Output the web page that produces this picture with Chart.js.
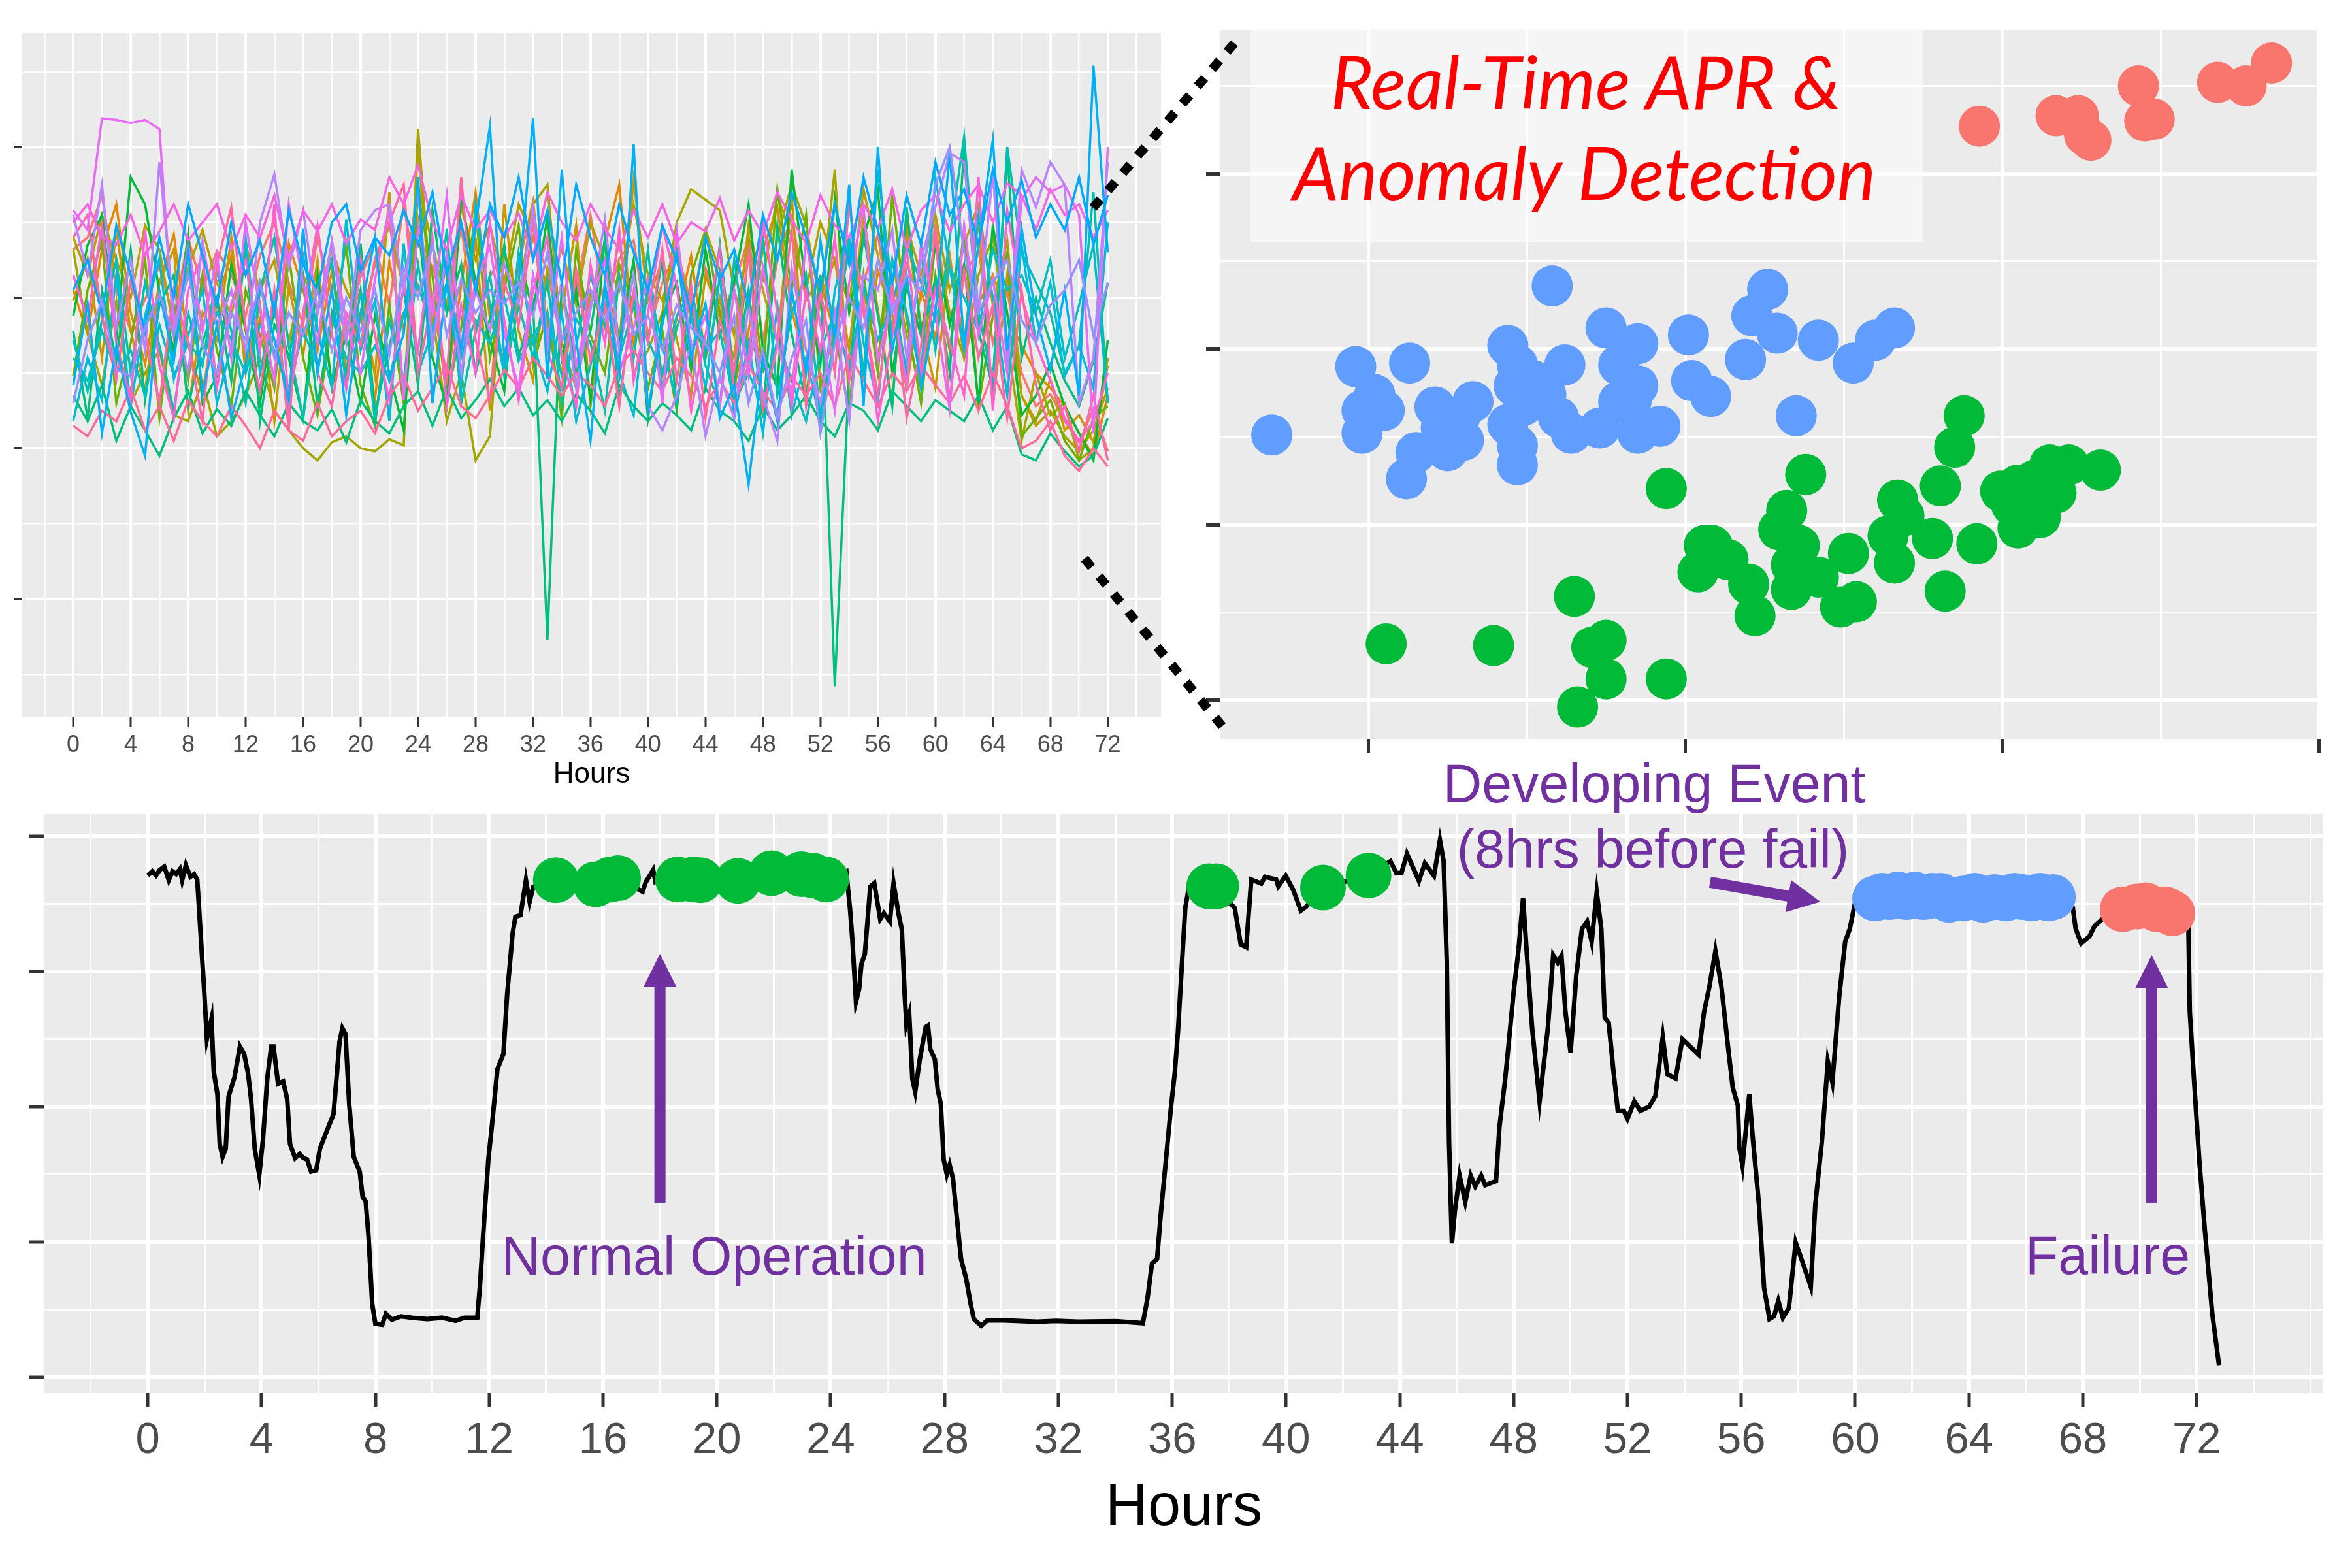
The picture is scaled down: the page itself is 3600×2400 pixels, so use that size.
<!DOCTYPE html>
<html>
<head>
<meta charset="utf-8">
<title>Real-Time APR</title>
<script src="https://cdn.jsdelivr.net/npm/chart.js@4"></script>
<style>
  html, body { margin: 0; background: #fff; }
  body { position: relative; width: 3600px; height: 2400px; overflow: hidden; font-family: "Liberation Sans", sans-serif; }
  canvas, svg, .note, .box { position: absolute; }
  .note { color: #7030A0; font-size: 82.5px; line-height: 1; white-space: nowrap; transform: translateX(-50%); }
  .headline { color: #FF0000; font: italic 112px/1 Lato, sans-serif; }
  .box { left: 1914px; top: 46px; width: 1029px; height: 325px; background: rgba(255, 255, 255, .5); }
</style>
</head>
<body>
<canvas id="multi" width="1800" height="1230" style="left:0;top:0"></canvas>
<canvas id="pca" width="1780" height="1180" style="left:1820px;top:0"></canvas>
<canvas id="sensor" width="3600" height="1200" style="left:0;top:1200px"></canvas>

<div class="box"></div>
<div class="note headline" style="left:2427px;top:68px">Real-Time APR &amp;</div>
<div class="note headline" style="left:2425px;top:207px">Anomaly Detection</div>
<div class="note" style="left:1093px;top:1881px">Normal Operation</div>
<div class="note" style="left:2532px;top:1158px">Developing Event</div>
<div class="note" style="left:2530px;top:1258px">(8hrs before fail)</div>
<div class="note" style="left:3226px;top:1880px">Failure</div>

<svg width="3600" height="2400" style="left:0;top:0">
  <g stroke="#000" stroke-width="14" stroke-dasharray="17 18">
    <line x1="1673" y1="318" x2="1893" y2="62"/>
    <line x1="1660" y1="855" x2="1881" y2="1124"/>
  </g>
</svg>

<script>
// top left: one line per sensor, hourly
const hourly = [];
for (let h = 0; h <= 72; h++) hourly.push(h);

const sensorColors = ["#F8766D", "#E58700", "#C99800", "#B79F00", "#A3A500", "#6BB100", "#00BA38", "#00BF7D", "#00C0AF", "#00BFC4",
  "#00BCD8", "#00BF7D", "#FF6A98", "#FD61D1", "#FF67A4", "#E76BF3", "#B983FF", "#F564E3", "#00B0F6", "#00A9FF", "#9590FF"];

const sensor1 = [232,240,268,205,178,199,221,186,240,205,231,216,188,228,250,210,182,240,201,176,214,236,195,262,205,221,190,248,176,214,230,199,240,218,170,205,255,191,226,238,175,210,232,196,220,186,208,240,172,225,254,198,214,186,230,210,242,176,222,200,248,186,215,232,170,205,150,128,136,118,104,126,98];
const sensor2 = [205,176,232,262,190,156,210,242,168,135,198,228,160,186,146,236,205,165,218,150,190,132,224,178,252,198,142,208,270,186,158,222,264,180,150,212,196,238,275,170,205,148,186,228,160,200,142,178,232,260,192,155,210,176,236,150,218,188,140,205,174,228,160,196,215,188,168,150,140,128,110,95,135];
const sensor3 = [198,226,160,245,178,138,210,232,125,190,172,240,150,195,118,208,162,225,140,182,205,148,270,130,300,182,222,142,240,125,262,178,145,220,190,248,128,205,170,278,198,225,172,135,215,188,160,248,205,170,268,135,200,225,165,255,192,130,245,182,140,225,170,252,128,215,135,118,146,112,122,104,155];
const sensor4 = [240,215,255,225,200,248,232,178,220,245,210,188,235,205,225,170,215,192,232,205,185,222,248,205,275,235,195,260,225,248,210,262,240,205,232,195,250,225,205,262,215,198,232,188,245,218,175,240,212,268,240,205,250,225,195,272,228,178,248,215,255,205,235,262,195,238,135,115,125,108,98,112,140];
const sensor5 = [232,176,142,198,130,150,165,122,118,145,108,118,135,160,125,112,100,92,104,108,100,98,106,102,312,190,118,150,92,108,230,200,262,275,170,140,205,180,240,150,165,190,250,272,265,258,205,170,158,240,275,248,195,285,130,205,160,225,175,140,238,190,160,215,240,172,105,150,122,130,92,100,160];
const sensor6 = [148,205,238,130,170,226,120,195,145,215,165,128,205,175,140,228,160,122,182,235,142,115,195,130,270,215,132,180,258,160,205,248,155,190,120,232,175,150,222,195,140,178,125,215,245,190,135,232,150,272,205,255,140,180,122,215,150,268,185,130,215,165,245,128,188,230,108,120,132,105,92,120,128];
const sensor7 = [188,235,255,172,280,262,204,165,242,130,148,222,178,130,195,160,120,215,142,175,130,188,150,112,250,160,128,268,210,172,138,230,190,254,160,205,132,240,170,225,120,188,210,152,232,175,210,262,165,140,285,206,156,265,190,240,272,150,208,175,235,182,222,130,248,190,122,135,156,128,110,92,172];
const sensor8 = [178,120,205,158,232,132,195,215,128,170,200,145,235,118,182,160,214,128,190,148,236,122,168,205,142,258,190,222,150,186,235,160,196,-27,210,150,178,238,132,200,172,225,128,190,160,235,145,205,120,248,176,130,215,-58,150,242,188,128,260,176,212,150,300,178,140,296,160,200,170,145,128,158,210];
const sensor9 = [172,138,185,225,150,210,168,125,190,155,218,178,130,205,240,168,120,190,225,140,205,118,185,145,222,165,246,130,178,215,148,195,160,212,130,186,170,125,215,160,232,140,180,205,155,128,225,158,240,135,190,215,120,175,235,148,285,205,150,230,165,240,307,190,145,300,230,210,190,150,168,270,130];
const sensor10 = [160,145,178,150,165,135,182,148,170,158,190,172,150,182,165,140,178,155,186,160,150,168,145,190,208,178,225,160,185,170,200,158,175,190,148,168,215,182,160,195,172,150,188,205,165,178,130,150,128,172,145,118,165,190,150,208,172,195,235,210,185,220,200,178,232,205,215,190,225,160,195,235,130];
const sensor11 = [118,160,132,215,128,188,226,146,175,205,130,168,240,150,196,125,228,178,140,252,165,198,118,236,150,178,210,140,262,195,150,228,170,138,190,118,155,205,150,122,210,168,132,188,140,215,120,170,110,195,122,160,118,205,240,170,130,225,190,148,280,220,165,255,200,135,235,170,210,148,168,140,250];
const sensor12 = [135,118,142,105,128,112,95,120,138,110,126,115,138,122,108,130,118,112,126,104,132,118,110,128,138,115,140,120,132,146,128,140,122,132,118,136,125,110,142,128,118,130,122,112,140,125,118,105,128,112,122,135,118,108,130,125,112,138,128,118,132,125,118,135,112,128,96,92,110,98,88,95,120];
const sensor13 = [115,108,125,118,140,112,128,105,132,118,108,128,115,100,125,112,105,130,108,118,125,110,135,148,125,140,155,128,120,135,152,140,160,148,135,150,142,128,155,165,150,138,160,148,128,145,130,155,138,125,148,135,150,128,162,145,128,150,138,155,142,130,148,125,150,128,100,105,118,95,85,100,88];
const sensor14 = [215,185,248,170,132,245,155,120,205,228,140,196,225,165,262,128,190,248,175,140,225,175,132,210,165,240,128,195,150,250,185,132,205,240,160,128,222,170,245,145,190,248,208,125,175,232,138,160,252,190,128,205,165,240,145,198,118,175,232,150,205,170,135,280,125,258,200,170,145,120,105,118,150];
const sensor15 = [240,255,188,146,212,176,130,205,170,118,222,260,180,138,205,112,245,150,128,190,168,226,250,275,150,200,148,280,172,132,210,182,250,164,140,218,158,196,128,204,170,232,145,208,120,185,152,230,126,168,245,128,205,150,262,190,135,210,120,168,242,130,218,160,195,120,205,142,112,128,98,135,92];
const sensor16 = [258,245,319,318,316,318,312,175,235,178,228,160,250,192,145,262,210,170,238,184,150,212,260,132,248,190,268,165,210,234,176,140,215,168,240,155,196,225,150,180,212,130,245,165,188,128,205,148,220,170,136,238,182,125,210,260,158,200,142,235,190,126,248,175,212,150,265,280,270,275,255,110,300];
const sensor17 = [255,215,275,180,225,165,290,190,150,238,180,205,165,250,282,220,258,190,236,170,245,258,262,205,270,168,230,150,205,178,222,196,260,175,210,140,192,252,165,215,128,112,135,170,108,148,120,195,135,105,220,165,130,190,118,215,205,245,160,225,260,296,290,190,282,155,285,260,290,275,130,160,290];
const sensor18 = [250,262,240,235,255,228,244,262,238,250,262,232,255,240,268,226,258,244,262,236,252,245,280,262,288,250,232,268,245,258,240,256,228,270,250,238,262,246,232,258,240,262,236,250,244,266,238,258,242,270,252,236,268,248,240,262,246,272,232,258,268,244,262,275,250,276,268,245,272,255,262,240,258];
const sensor19 = [142,196,110,168,124,95,204,158,232,136,182,120,156,210,172,132,246,150,206,122,190,240,146,176,280,130,210,165,248,314,160,210,319,146,285,172,105,210,150,302,125,182,230,160,196,120,142,76,160,118,205,150,238,172,275,128,300,165,215,140,190,296,170,235,305,165,246,188,152,205,135,354,230];
const sensor20 = [205,225,190,248,215,178,240,200,262,228,195,250,215,238,190,258,222,205,250,262,218,240,228,258,235,270,215,250,205,262,240,280,225,258,210,275,240,215,262,230,205,248,225,190,240,212,232,195,255,225,270,240,205,262,222,280,245,210,268,235,290,255,272,235,285,250,278,240,262,245,280,235,268];
const sensor21 = [130,172,198,152,148,180,202,175,216,168,150,190,172,210,160,190,175,205,165,200,178,205,162,220,200,235,175,212,190,205,196,210,188,230,172,190,205,185,210,176,188,165,195,180,170,150,188,130,165,120,160,185,110,170,200,180,225,190,215,205,275,300,230,190,210,225,185,170,195,205,225,175,210];
const sensors = [sensor1, sensor2, sensor3, sensor4, sensor5, sensor6, sensor7, sensor8, sensor9, sensor10, sensor11, sensor12, sensor13, sensor14, sensor15, sensor16, sensor17, sensor18, sensor19, sensor20, sensor21];

// top right: first two components
const normalPcX = [94,138,188,185,180.5,167,169,199.5,205,210,215,221,231,214,217,212,205,192,178,164,166,151.5,154,149,182,132,129.5,136,133.5,142,133.5,106,108.5,113.5,104,120,122,65,5.6,39.5,70.5,75,75,94,66,210,203];
const normalPcY = [120.5,128.5,162,144,122,114,105,119,122.5,125,134,134,131,117,118,104,98,89,92,93.5,78,83.5,56,53,62,108,97,88,77,70,63,88,88,80,73,66,48,59,32,31,30,34,12,12,-4,114,111];
const eventPcX = [-30.5,-4,13,-2,-2,2,5,12,15,21,23,25,30,33,29,44,47,46,44,47,47,52,60,62,58,64,73,75,79,85,79,85,85,92,101,102,108,119,121,126,129,135,142,153,160,166,52,56,83,49];
const eventPcY = [151,190,192,152,165,174,165,126,141,167,155,142,148,170,162,202,191,179,157,145,134,182,161,191,236,152,155,212,191,203,170,179,152,156,208,182,173,194,219,234,209,162,205,192,205,212,171,174,171,168];
const failPcX = [192.8,217,224,228,226,243,245,248,268,277,285];
const failPcY = [327,333,333,319,322,350,330,331,352,350,363];

// bottom: the monitored signal
const signalHours = [
  0,.16,.29,.42,.58,.74,.87,1,1.13,1.21,
  1.34,1.5,1.63,1.74,1.87,1.97,2.08,2.24,2.32,2.45,
  2.53,2.63,2.74,2.84,3.05,3.24,3.39,3.53,3.63,3.76,
  3.92,4.05,4.2,4.34,4.42,4.58,4.76,4.9,5,5.18,
  5.34,5.47,5.6,5.74,5.92,6.05,6.32,6.53,6.74,6.84,
  6.95,7.08,7.24,7.45,7.55,7.66,7.76,7.89,8,8.24,
  8.37,8.58,8.9,9.29,9.82,10.34,10.82,11.13,11.58,11.68,
  11.79,11.97,12.1,12.29,12.5,12.63,12.82,12.92,13.1,13.29,
  13.42,13.55,14.3,15.5,16.8,17.39,17.5,17.76,17.84,18.03,
  18.6,20,21,22,23,24.2,24.55,24.68,24.76,24.89,
  25,25.08,25.2,25.39,25.53,25.74,25.87,26.08,26.21,26.39,
  26.5,26.6,26.66,26.76,26.87,26.97,27.13,27.34,27.42,27.5,
  27.66,27.76,27.87,27.97,28.08,28.18,28.3,28.42,28.58,28.76,
  28.92,29.03,29.29,29.5,30.08,31.26,31.92,32.7,34.03,34.97,
  35.13,35.29,35.47,35.6,35.8,35.95,36.09,36.2,36.46,36.62,
  37.42,38.2,38.41,38.6,38.78,39.13,39.26,39.65,39.73,39.99,
  40.26,40.52,40.7,41.3,42.9,43.67,43.88,44.06,44.25,44.67,
  44.88,45.2,45.41,45.54,45.65,45.73,45.83,45.94,46.1,46.3,
  46.49,46.65,46.86,47,47.38,47.5,47.7,47.88,48,48.17,
  48.33,48.48,48.65,48.91,49.2,49.39,49.55,49.68,49.82,50,
  50.2,50.4,50.58,50.74,50.92,51.08,51.2,51.34,51.5,51.66,
  51.87,52,52.24,52.45,52.76,52.98,53.24,53.4,53.69,53.93,
  54.5,54.69,54.88,55.09,55.3,55.54,55.7,55.88,55.93,56.04,
  56.28,56.4,56.62,56.8,56.99,57.15,57.3,57.46,57.67,57.91,
  58.12,58.44,58.6,58.83,59.04,59.2,59.44,59.65,59.81,60,
  61,62,63,64,65,66,67,67.65,67.75,67.94,
  68.23,68.41,68.75,69.5,70.5,71.3,71.71,71.76,71.92,72.1,
  72.29,72.55,72.79
];
const signalValues = [
  371,374,371,375,377.5,367.5,374,372,375.6,367.5,
  378.6,370,372,368,324,291,250,265,226,209,
  172.5,163,169,207.5,222,244.5,239,224,206,169,
  149.6,176,220.5,244.5,244.5,217,218.7,205.7,172.5,162,
  165,162,161,152,153,169,183.6,194.6,248,258,
  253.7,202,163,152,133.7,130,104,54,39.5,38.8,
  47,42.5,45,44,43,44,41.7,44,44,69,
  106,161,187,228,239,283,327.6,340.5,341.6,367.5,
  351.6,362.7,366,363,366,359,366,375,366.4,368,
  366,370,372,372,371,370,373.8,346,324,277.7,
  287,305.5,312.8,362.7,365.3,338.7,343,337,365,342,
  331,283,261,268.5,220.5,211,235,259,260,242.7,
  235,213,202,161,150,157,146.6,120.8,87.5,72.8,
  54,43,38,42,42,41,41.7,41,41.4,40,
  58,84,87.5,120.8,165,198,225,254.6,347,366,
  363,347,320,318,368,365,370,368,363,370.8,
  360,345,347.7,362,371,381.5,372.7,373,387,367,
  380,370.8,397,381.5,308,174,99,124,149,129.6,
  149,141,149,142,145,185,220,258.5,285,316,
  354,308,258,204,258,312,306.5,311.5,270,240,
  297,331.5,337,322,358.5,331.5,266,262,227.7,197,
  197,191,204,197,200,208,251.5,224,221,250,
  238.5,270,289,315,289,243,214,200.8,170,156.5,
  209,177.7,127.7,66,43,45,56.5,44,51,99.6,
  87,67,127.7,174,233.5,218,281.5,322,331.5,351,
  354,355,354,354,354,354,354,347,331.5,320.8,
  325.8,333.5,340,346,347,343,333.5,270,216,158.5,
  108.5,47,8.5
];
const normalHours = [14.34,15.74,16.26,16.53,18.63,19.16,19.42,20.74,21.92,22.97,23.37,23.84,37.3,37.55,41.3,42.9];
const normalValues = [367.5,364.5,368,369,368,368,367.5,367,372.7,372,371,368,363,363,362,371];
const eventHours = [60.7,60.95,61.2,61.5,61.8,62.1,62.4,62.7,63,63.3,63.8,64.2,64.5,64.9,65.3,65.6,65.9,66.2,66.5,66.8,66.95];
const eventValues = [354,356,355,357,355,357,355,356,356,353,354,356,353,355,354,356,355,354,356,354,355];
const failHours = [69.4,69.9,70.2,70.6,70.9,71.15];
const failValues = [346,348,349,346,346,343];

// arrows sit in the signal's hours/values
const arrowFromHours = [18, 54.9, 70.42];
const arrowFromValues = [129, 366, 129];
const arrowToHours = [18, 58.78, 70.42];
const arrowToValues = [313, 351.5, 312];

const RED = "#F8766D", GREEN = "#00BA38", BLUE = "#619CFF", PURPLE = "#7030A0";

Chart.defaults.font.family = "'Liberation Sans', sans-serif";

const panelBg = {
  id: "panelBg",
  beforeDraw(chart) {
    const a = chart.chartArea;
    chart.ctx.fillStyle = "#EBEBEB";
    chart.ctx.fillRect(a.left, a.top, a.width, a.height);
  }
};

const arrows = {
  id: "arrows",
  afterDatasetsDraw(chart) {
    const ctx = chart.ctx, sx = chart.scales.x, sy = chart.scales.y;
    arrowFromHours.forEach((h, i) => {
      const x1 = sx.getPixelForValue(h), y1 = sy.getPixelForValue(arrowFromValues[i]);
      const x2 = sx.getPixelForValue(arrowToHours[i]), y2 = sy.getPixelForValue(arrowToValues[i]);
      const a = Math.atan2(y2 - y1, x2 - x1), len = Math.hypot(x2 - x1, y2 - y1);
      ctx.save();
      ctx.translate(x1, y1);
      ctx.rotate(a);
      ctx.fillStyle = PURPLE;
      ctx.fillRect(0, -8.5, len - 48, 17);
      ctx.beginPath();
      ctx.moveTo(len, 0);
      ctx.lineTo(len - 50, -25);
      ctx.lineTo(len - 50, 25);
      ctx.fill();
      ctx.restore();
    });
  }
};

// ticks every `step` across the panel, no extra ones at the limits
function stepTicks(step) {
  return s => {
    const t = [];
    for (let v = Math.ceil(s.min / step) * step; v <= s.max; v += step) t.push({ value: v });
    s.ticks = t;
  };
}

function axis(o) {
  // the axes stop at 72 hours, lines past that stay thin and unlabelled
  const isMajor = v => v % o.major === 0 && v <= (o.lastMajor === undefined ? Infinity : o.lastMajor);
  return {
    type: "linear",
    min: o.min,
    max: o.max,
    border: { display: false },
    afterBuildTicks: stepTicks(o.step),
    afterFit: s => { if (s.isHorizontal()) s.height = o.size; else s.width = o.size; },
    grid: {
      color: "#FFFFFF",
      lineWidth: c => isMajor(c.tick.value) ? o.majorWidth : o.minorWidth,
      tickLength: o.tickLength,
      tickWidth: o.tickWidth,
      tickColor: c => isMajor(c.tick.value) ? "#333333" : "rgba(0,0,0,0)"
    },
    ticks: o.font ? {
      autoSkip: false,
      maxRotation: 0,
      color: "#4D4D4D",
      padding: o.padding,
      font: { size: o.font },
      callback: v => isMajor(v) ? String(v) : ""
    } : { display: false },
    title: o.title ? {
      display: true,
      text: o.title,
      color: "#000000",
      font: { size: o.titleSize },
      padding: { top: 0, bottom: o.titleBottom }
    } : { display: false }
  };
}

function xy(xs, ys) {
  return xs.map((x, i) => ({ x: x, y: ys[i] }));
}

function dots(xs, ys, color, r) {
  return { data: xy(xs, ys), backgroundColor: color, pointRadius: r, pointBorderWidth: 0, order: 0 };
}

function makeChart(id, datasets, padding, x, y, plugins) {
  return new Chart(document.getElementById(id), {
    type: "scatter",
    data: { datasets: datasets },
    options: {
      responsive: false,
      animation: false,
      devicePixelRatio: 1,
      layout: { padding: padding },
      plugins: { legend: { display: false }, tooltip: { enabled: false } },
      scales: { x: x, y: y }
    },
    plugins: plugins
  });
}

makeChart("multi",
  sensors.map((s, i) => ({
    data: xy(hourly, s),
    showLine: true,
    borderColor: sensorColors[i],
    borderWidth: 3.5,
    pointRadius: 0,
    tension: 0,
    order: -i
  })),
  { top: 51, right: 23, left: 0, bottom: 0 },
  axis({ min: -3.55, max: 75.7, step: 2, major: 4, lastMajor: 72, size: 132, majorWidth: 4, minorWidth: 2.5, tickLength: 15, tickWidth: 3, font: 36, padding: 6, title: "Hours", titleSize: 44, titleBottom: 18 }),
  axis({ min: -78.6, max: 375.5, step: 50, major: 100, size: 34, majorWidth: 4, minorWidth: 2.5, tickLength: 12, tickWidth: 4 }),
  [panelBg]
);

makeChart("pca",
  [dots(failPcX, failPcY, RED, 31.5), dots(normalPcX, normalPcY, GREEN, 31.5), dots(eventPcX, eventPcY, BLUE, 31.5)],
  { top: 46, right: 49, left: 0, bottom: 0 },
  axis({ min: -46.7, max: 300.3, step: 50, major: 100, size: 49, majorWidth: 5, minorWidth: 3, tickLength: 21, tickWidth: 5 }),
  axis({ min: -22.2, max: 381.8, step: 50, major: 100, size: 48, majorWidth: 6, minorWidth: 3, tickLength: 22, tickWidth: 6 }),
  [panelBg]
);

makeChart("sensor",
  [
    dots(failHours, failValues, RED, 35),
    dots(eventHours, eventValues, BLUE, 35),
    dots(normalHours, normalValues, GREEN, 35),
    { data: xy(signalHours, signalValues), showLine: true, borderColor: "#000000", borderWidth: 7, pointRadius: 0, tension: 0, order: 1 }
  ],
  { top: 46, right: 44, left: 0, bottom: 0 },
  axis({ min: -3.63, max: 76.45, step: 2, major: 4, lastMajor: 72, size: 268, majorWidth: 6, minorWidth: 3, tickLength: 21, tickWidth: 5, font: 67, padding: 12, title: "Hours", titleSize: 90, titleBottom: 37 }),
  axis({ min: -11.6, max: 416.4, step: 50, major: 100, size: 68, majorWidth: 6, minorWidth: 3, tickLength: 24, tickWidth: 5 }),
  [panelBg, arrows]
);
</script>
</body>
</html>
